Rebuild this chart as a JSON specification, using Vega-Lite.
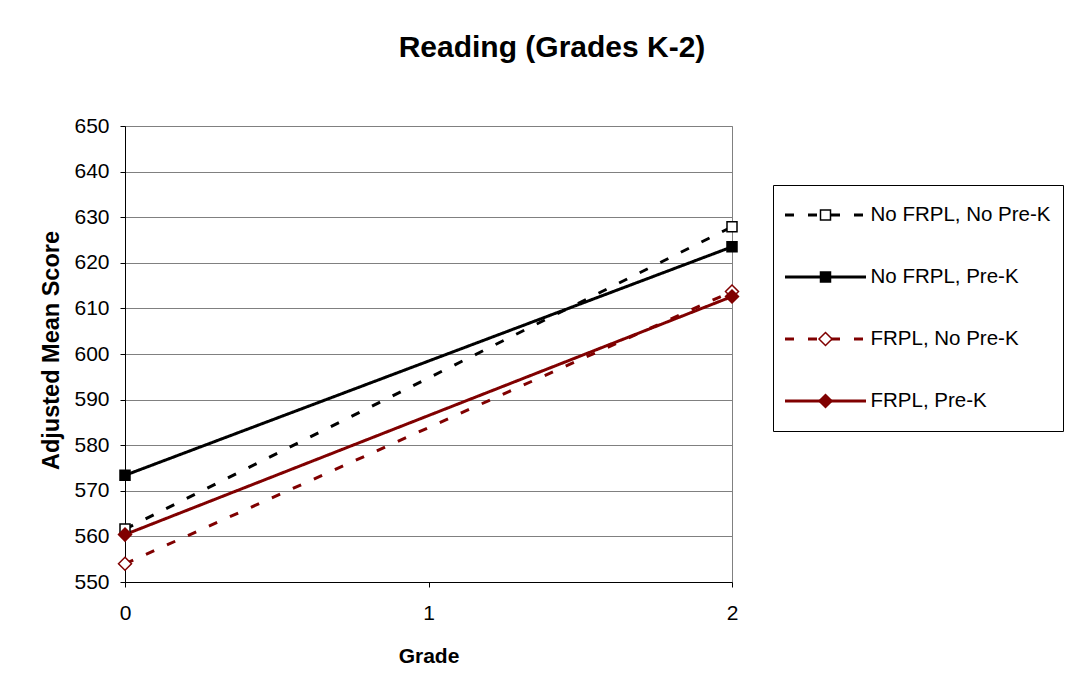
{
  "$schema": "https://vega.github.io/schema/vega-lite/v6.json",
  "width": 607,
  "height": 456,
  "autosize": "none",
  "padding": {"left": 125, "top": 126, "right": 354, "bottom": 102},
  "background": "white",
  "config": {
    "font": "Liberation Sans",
    "view": {"stroke": "#808080", "strokeWidth": 1},
    "axis": {"labelColor": "black", "titleColor": "black", "domainColor": "#000000", "tickColor": "#000000", "gridColor": "#808080", "gridWidth": 1, "tickSize": 5, "labelFont": "Liberation Sans", "titleFont": "Liberation Sans"}
  },
  "title": {
    "text": "Reading (Grades K-2)",
    "fontSize": 30,
    "fontWeight": "bold",
    "font": "Liberation Sans",
    "color": "black",
    "anchor": "middle",
    "frame": "group",
    "dx": 123.5,
    "baseline": "alphabetic",
    "offset": 28
  },
  "data": {
    "values": [
      {"series": "No FRPL, No Pre-K", "order": 1, "grade": 0, "score": 561.6},
      {"series": "No FRPL, No Pre-K", "order": 1, "grade": 2, "score": 627.9},
      {"series": "No FRPL, Pre-K", "order": 2, "grade": 0, "score": 573.4},
      {"series": "No FRPL, Pre-K", "order": 2, "grade": 2, "score": 623.5},
      {"series": "FRPL, No Pre-K", "order": 3, "grade": 0, "score": 554.0},
      {"series": "FRPL, No Pre-K", "order": 3, "grade": 2, "score": 613.7},
      {"series": "FRPL, Pre-K", "order": 4, "grade": 0, "score": 560.4},
      {"series": "FRPL, Pre-K", "order": 4, "grade": 2, "score": 612.6}
    ]
  },
  "encoding": {
    "x": {
      "field": "grade",
      "type": "quantitative",
      "scale": {"domain": [0, 2], "nice": false, "zero": false},
      "axis": {
        "title": "Grade",
        "titleFontSize": 21,
        "titleFontWeight": "bold",
        "titleBaseline": "alphabetic",
        "titleY": 80,
        "values": [0, 1, 2],
        "tickCount": 3,
        "labelExpr": "'' + datum.value",
        "grid": false,
        "labelFontSize": 21,
        "labelPadding": 15,
        "labelFlush": false,
        "labelOverlap": false
      }
    },
    "y": {
      "field": "score",
      "type": "quantitative",
      "scale": {"domain": [550, 650], "nice": false, "zero": false},
      "axis": {
        "title": "Adjusted Mean Score",
        "titleFontSize": 23.5,
        "titleFontWeight": "bold",
        "titleBaseline": "alphabetic",
        "titleAlign": "center",
        "titleAngle": -90,
        "titleX": -67,
        "titleY": 224,
        "values": [550, 560, 570, 580, 590, 600, 610, 620, 630, 640, 650],
        "tickCount": 11,
        "grid": true,
        "labelFontSize": 21,
        "labelPadding": 11,
        "labelFlush": false,
        "labelOverlap": false
      }
    }
  },
  "layer": [
    {
      "mark": {"type": "line", "strokeWidth": 3},
      "encoding": {
        "color": {
          "field": "series",
          "type": "nominal",
          "sort": {"field": "order", "op": "min", "order": "ascending"},
          "scale": {"range": ["#000000", "#000000", "#800000", "#800000"]},
          "legend": {
            "title": null,
            "orient": "none",
            "legendX": 648,
            "legendY": 59,
            "symbolType": "stroke",
            "symbolSize": 6561,
            "symbolStrokeWidth": 3,
            "clipHeight": 36,
            "rowPadding": 26,
            "padding": 12,
            "symbolOffset": -1.5,
            "labelOffset": 3,
            "labelFontSize": 20.5,
            "labelFont": "Liberation Sans",
            "labelColor": "black",
            "labelLimit": 300,
            "strokeColor": "#000000",
            "fillColor": "white"
          }
        },
        "strokeDash": {
          "field": "series",
          "type": "nominal",
          "sort": {"field": "order", "op": "min", "order": "ascending"},
          "scale": {"range": [[9, 14], [1, 0], [9, 14], [1, 0]]}
        }
      }
    },
    {
      "mark": {"type": "point", "filled": true, "opacity": 1, "size": 100, "strokeWidth": 1.5},
      "encoding": {
        "shape": {
          "field": "series",
          "type": "nominal",
          "scale": {
            "domain": ["No FRPL, No Pre-K", "No FRPL, Pre-K", "FRPL, No Pre-K", "FRPL, Pre-K"],
            "range": ["square", "square", "M0,-1.3L1.3,0L0,1.3L-1.3,0Z", "M0,-1.3L1.3,0L0,1.3L-1.3,0Z"]
          },
          "legend": {
            "title": null,
            "orient": "none",
            "legendX": 648,
            "legendY": 59,
            "symbolSize": 100,
            "symbolStrokeWidth": 1.5,
            "symbolOpacity": 1,
            "clipHeight": 36,
            "rowPadding": 26,
            "padding": 12,
            "symbolOffset": 30.5,
            "labelFontSize": 20,
            "labelFont": "Liberation Sans",
            "labelExpr": "''",
            "labelLimit": 300
          }
        },
        "fill": {
          "field": "series",
          "type": "nominal",
          "scale": {
            "domain": ["No FRPL, No Pre-K", "No FRPL, Pre-K", "FRPL, No Pre-K", "FRPL, Pre-K"],
            "range": ["#ffffff", "#000000", "#ffffff", "#800000"]
          }
        },
        "stroke": {
          "field": "series",
          "type": "nominal",
          "scale": {
            "domain": ["No FRPL, No Pre-K", "No FRPL, Pre-K", "FRPL, No Pre-K", "FRPL, Pre-K"],
            "range": ["#000000", "#000000", "#800000", "#800000"]
          }
        }
      }
    }
  ]
}
